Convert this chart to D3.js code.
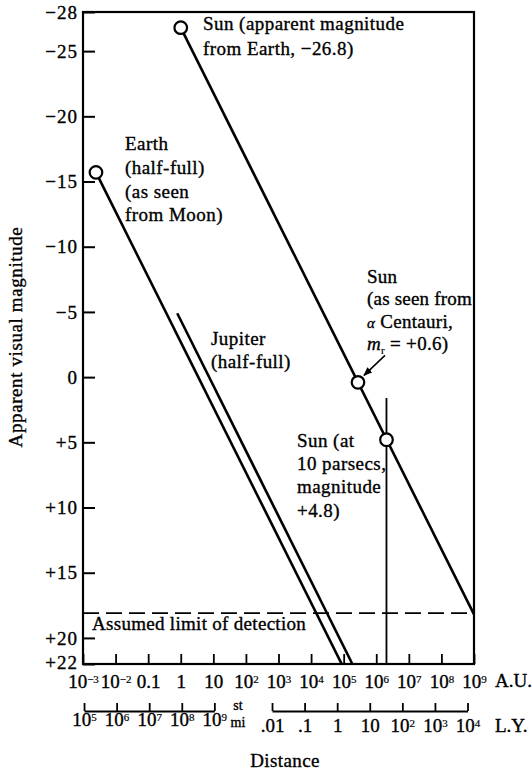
<!DOCTYPE html>
<html><head><meta charset="utf-8">
<script src="https://cdn.jsdelivr.net/npm/d3@7"></script>
<style>
body{margin:0;background:#fff}
svg{display:block;background:#fff}
text{font-family:"Liberation Serif","Times New Roman",serif;fill:#000;stroke:#000;stroke-width:0.35px}
</style></head><body>
<svg id="chart" width="532" height="771"></svg>
<script>
// ---------- data ----------
const magTicks = [-28, -25, -20, -15, -10, -5, 0, 5, 10, 15, 20, 22];
const auTicks = [1e-3, 1e-2, 0.1, 1, 10, 1e2, 1e3, 1e4, 1e5, 1e6, 1e7, 1e8, 1e9];
const auLabels = ["10^-3", "10^-2", "0.1", "1", "10", "10^2", "10^3", "10^4", "10^5", "10^6", "10^7", "10^8", "10^9"];
const miTicks = [1e5, 1e6, 1e7, 1e8, 1e9];
const miLabels = ["10^5", "10^6", "10^7", "10^8", "10^9"];
const lyTicks = [0.01, 0.1, 1, 10, 1e2, 1e3, 1e4];
const lyLabels = [".01", ".1", "1", "10", "10^2", "10^3", "10^4"];

const sunDist = [1, 1e9];
const sunMag = [-26.8, 18.2];
const earthDist = [0.0025, 8.7e4];
const earthMag = [-15.7, 22];
const jupiterDist = [0.78, 1.85e5];
const jupiterMag = [-4.9, 22];
const tenParsecDist = [2.06e6, 2.06e6];
const tenParsecMag = [1.6, 22];
const pointDist = [1, 0.0025, 2.75e5, 2.06e6];
const pointMag = [-26.8, -15.7, 0.4, 4.8];
const detectionLimit = 18.1;

const MILES_PER_AU = 92955807;
const AU_PER_LY = 63241;

// ---------- scales ----------
const svg = d3.select("#chart");
const x = d3.scaleLog().domain([1e-3, 1e9]).range([83, 474]);
const y = d3.scaleLinear().domain([-28, 22]).range([12, 664]);
const xMi = d3.scaleLog().domain([miTicks[0], miTicks[miTicks.length - 1]])
  .range([x(miTicks[0] / MILES_PER_AU), x(miTicks[miTicks.length - 1] / MILES_PER_AU)]);
const xLy = d3.scaleLog().domain([lyTicks[0], lyTicks[lyTicks.length - 1]])
  .range([x(lyTicks[0] * AU_PER_LY), x(lyTicks[lyTicks.length - 1] * AU_PER_LY)]);

const FS = 19;

function richLabel(sel, label) {
  const parts = label.split("^");
  sel.text(null);
  sel.append("tspan").text(parts[0]);
  if (parts[1]) sel.append("tspan").attr("dy", -5).attr("font-size", 11).attr("stroke-width", 0.2)
    .text(parts[1].replace("-", "\u2212"));
}

// ---------- frame ----------
svg.append("rect")
  .attr("x", x(1e-3)).attr("y", y(-28))
  .attr("width", x(1e9) - x(1e-3)).attr("height", y(22) - y(-28))
  .attr("fill", "none").attr("stroke", "#000").attr("stroke-width", 2.2);

// ---------- y axis ----------
const yAxis = svg.append("g").attr("transform", `translate(${x(1e-3)},0)`)
  .call(d3.axisLeft(y).tickValues(magTicks).tickSizeInner(-12).tickSizeOuter(0).tickPadding(5)
    .tickFormat(v => v < 0 ? "\u2212" + Math.abs(v) : (v > 0 ? "+" + v : "0")));
yAxis.select(".domain").remove();
yAxis.selectAll(".tick line").attr("stroke-width", 2);
yAxis.selectAll("text").attr("font-size", FS).attr("font-family", null).attr("letter-spacing", 1)
  .attr("dy", d => d === 22 ? "0.22em" : "0.32em");

// ---------- x axis (A.U.) ----------
const xAxis = svg.append("g").attr("transform", `translate(0,${y(22)})`)
  .call(d3.axisBottom(x).tickValues(auTicks).tickSizeInner(-10).tickSizeOuter(0).tickFormat(""));
xAxis.select(".domain").remove();
xAxis.selectAll(".tick line").attr("stroke-width", 1.8);
xAxis.selectAll(".tick text").attr("y", 24).attr("dy", null).attr("font-size", FS).attr("font-family", null)
  .each(function (d, i) { richLabel(d3.select(this), auLabels[i]); });

// ---------- miles bracket ----------
const miAxis = svg.append("g").attr("transform", "translate(0,711)")
  .call(d3.axisBottom(xMi).tickValues(miTicks).tickSizeInner(-8).tickSizeOuter(0).tickFormat(""));
miAxis.select(".domain").attr("stroke-width", 1.8);
miAxis.selectAll(".tick line").attr("stroke-width", 1.8);
miAxis.selectAll(".tick text").attr("y", 15).attr("dy", null).attr("font-size", FS).attr("font-family", null)
  .each(function (d, i) { richLabel(d3.select(this), miLabels[i]); });

// ---------- light-year bracket ----------
const lyAxis = svg.append("g").attr("transform", "translate(0,711)")
  .call(d3.axisBottom(xLy).tickValues(lyTicks).tickSizeInner(-8).tickSizeOuter(0).tickFormat(""));
lyAxis.select(".domain").attr("stroke-width", 1.8);
lyAxis.selectAll(".tick line").attr("stroke-width", 1.8);
lyAxis.selectAll(".tick text").attr("y", 21).attr("dy", null).attr("font-size", FS).attr("font-family", null)
  .each(function (d, i) { richLabel(d3.select(this), lyLabels[i]); });

// unit labels
svg.append("text").attr("x", 495).attr("y", 687).attr("font-size", FS).text("A.U.");
svg.append("text").attr("x", 495).attr("y", 732).attr("font-size", FS).text("L.Y.");
svg.append("text").attr("x", 238).attr("y", 710).attr("font-size", 14).attr("text-anchor", "middle").text("st");
svg.append("text").attr("x", 238).attr("y", 727).attr("font-size", 14).attr("text-anchor", "middle").text("mi");
svg.append("text").attr("x", 285).attr("y", 767).attr("font-size", FS).attr("text-anchor", "middle").attr("letter-spacing", 0.4).text("Distance");
svg.append("text").attr("transform", "translate(22,337) rotate(-90)").attr("font-size", FS)
  .attr("text-anchor", "middle").attr("letter-spacing", 0.6).text("Apparent visual magnitude");

// ---------- detection limit ----------
svg.append("line")
  .attr("x1", x(1e-3)).attr("x2", x(1e9)).attr("y1", y(detectionLimit)).attr("y2", y(detectionLimit))
  .attr("stroke", "#000").attr("stroke-width", 1.8).attr("stroke-dasharray", "16,7");
svg.append("text").attr("x", 92).attr("y", 630).attr("font-size", FS).attr("letter-spacing", 0.3).text("Assumed limit of detection");

// ---------- lines ----------
const lineGen = d3.line().x(d => x(d[0])).y(d => y(d[1]));
[[sunDist, sunMag], [earthDist, earthMag], [jupiterDist, jupiterMag]].forEach(([ds, ms]) => {
  svg.append("path").attr("d", lineGen(d3.zip(ds, ms)))
    .attr("fill", "none").attr("stroke", "#000").attr("stroke-width", 2.6);
});
svg.append("path").attr("d", lineGen(d3.zip(tenParsecDist, tenParsecMag)))
  .attr("fill", "none").attr("stroke", "#000").attr("stroke-width", 1.8);

// ---------- points ----------
svg.selectAll("circle.pt").data(d3.zip(pointDist, pointMag)).join("circle")
  .attr("class", "pt").attr("cx", d => x(d[0])).attr("cy", d => y(d[1])).attr("r", 6.3)
  .attr("fill", "#fff").attr("stroke", "#000").attr("stroke-width", 2.2);

// ---------- arrow to alpha Centauri point ----------
svg.append("defs").append("marker").attr("id", "ah").attr("viewBox", "0 0 10 10")
  .attr("refX", 9).attr("refY", 5).attr("markerWidth", 9).attr("markerHeight", 9)
  .attr("markerUnits", "userSpaceOnUse").attr("orient", "auto")
  .append("path").attr("d", "M0,1 L10,5 L0,9 Z").attr("fill", "#000");
const acx = x(pointDist[2]), acy = y(pointMag[2]);
svg.append("line").attr("x1", acx + 27).attr("y1", acy - 27).attr("x2", acx + 6).attr("y2", acy - 7)
  .attr("stroke", "#000").attr("stroke-width", 1.5).attr("marker-end", "url(#ah)");

// ---------- annotations ----------
function block(x0, ys, lines, ls = 0.45) {
  lines.forEach((l, i) => {
    svg.append("text").attr("x", x0).attr("y", ys[i]).attr("font-size", FS).attr("letter-spacing", ls).text(l);
  });
}
block(203, [30, 55], ["Sun (apparent magnitude", "from Earth, \u221226.8)"]);
block(125, [150, 174, 198, 221], ["Earth", "(half-full)", "(as seen", "from Moon)"]);
block(211, [345, 368], ["Jupiter", "(half-full)"]);
block(367, [283, 305], ["Sun", "(as seen from"], 0.2);
const t3 = svg.append("text").attr("x", 367).attr("y", 328).attr("font-size", FS).attr("letter-spacing", 0.3);
t3.append("tspan").attr("font-style", "italic").attr("font-size", 15).text("\u03b1");
t3.append("tspan").text(" Centauri,");
const t4 = svg.append("text").attr("x", 367).attr("y", 350).attr("font-size", FS).attr("letter-spacing", 0.3);
t4.append("tspan").attr("font-style", "italic").text("m");
t4.append("tspan").attr("font-size", 11).attr("dy", 4).attr("stroke-width", 0.2).text("r");
t4.append("tspan").attr("dy", -4).text(" = +0.6)");
block(297, [447, 470, 493, 517], ["Sun (at", "10 parsecs,", "magnitude", "+4.8)"]);
</script>
</body></html>
